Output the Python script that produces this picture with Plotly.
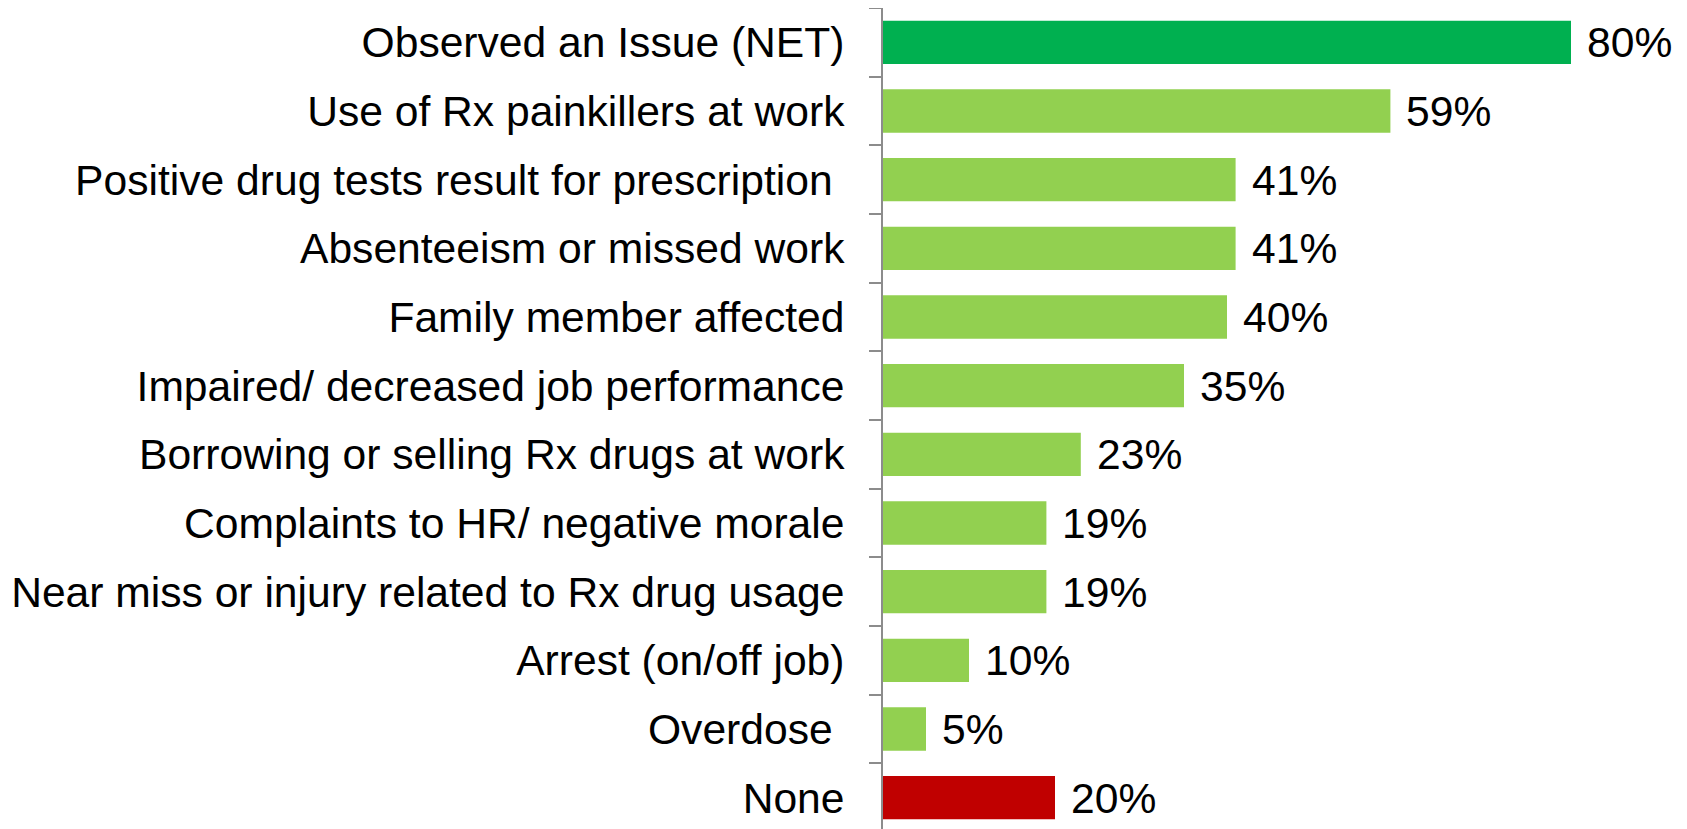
import plotly.graph_objects as go

# issues observed, top to bottom
categories = [
    "Observed an Issue (NET)",
    "Use of Rx painkillers at work",
    "Positive drug tests result for prescription ",
    "Absenteeism or missed work",
    "Family member affected",
    "Impaired/ decreased job performance",
    "Borrowing or selling Rx drugs at work",
    "Complaints to HR/ negative morale",
    "Near miss or injury related to Rx drug usage",
    "Arrest (on/off job)",
    "Overdose ",
    "None",
]
values = [80, 59, 41, 41, 40, 35, 23, 19, 19, 10, 5, 20]
bar_colors = ["#00B050"] + ["#92D050"] * 10 + ["#C00000"]

FONT = "Liberation Sans, Arial, sans-serif"

fig = go.Figure(go.Bar(
    x=values,
    y=categories,
    orientation="h",
    marker=dict(color=bar_colors, line=dict(width=0)),
    hoverinfo="skip",
))

# percentage labels just right of each bar
for cat, v in zip(categories, values):
    fig.add_annotation(
        x=v, y=cat, text=f"{v}%", showarrow=False,
        xanchor="left", yanchor="middle", xshift=14,
        font=dict(family=FONT, size=42.6, color="#000000"),
    )

# page body adds an 8px offset, so margins are trimmed to match
fig.update_layout(
    width=1687, height=829,
    margin=dict(l=875, r=38, t=0, b=5),
    paper_bgcolor="white", plot_bgcolor="white",
    bargap=0.37,
    showlegend=False,
    font=dict(family=FONT, size=42.6, color="#000000"),
)
fig.update_xaxes(range=[0, 90], visible=False, showgrid=False, zeroline=False)
fig.update_yaxes(
    autorange="reversed",
    showline=True, linecolor="#8C8C8C", linewidth=2,
    ticks="outside", tickson="boundaries", ticklen=12, tickcolor="#8C8C8C", tickwidth=2,
    ticklabelstandoff=28,
    showgrid=False, zeroline=False,
    tickfont=dict(family=FONT, size=42.6, color="#000000"),
)

fig.write_html("out.html")
